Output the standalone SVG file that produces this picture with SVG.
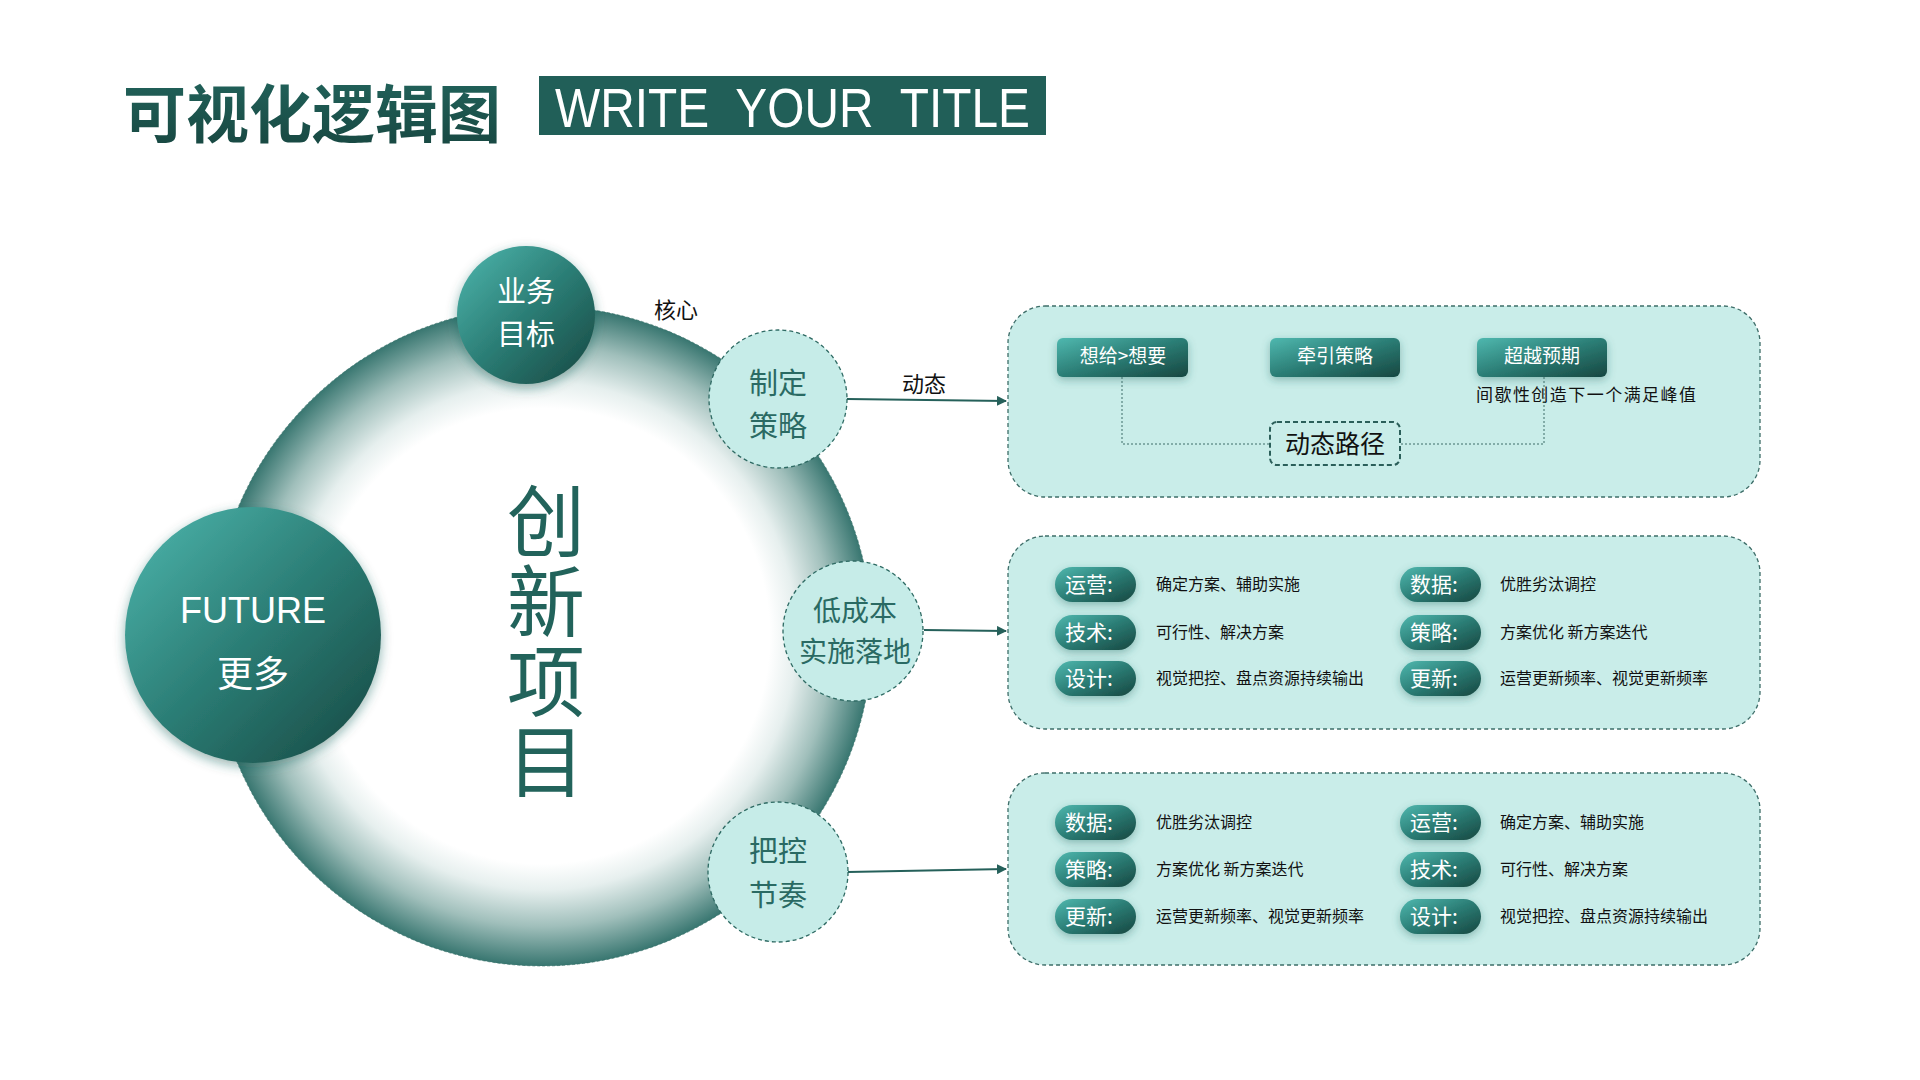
<svg xmlns="http://www.w3.org/2000/svg" width="1920" height="1080" viewBox="0 0 1920 1080">
<defs>
<radialGradient id="ringGrad" cx="0.5" cy="0.5" r="0.5">
<stop offset="0" stop-color="#ffffff"/>
<stop offset="0.69" stop-color="#ffffff"/>
<stop offset="0.77" stop-color="#e6efee"/>
<stop offset="0.88" stop-color="#a0bfbb"/>
<stop offset="1" stop-color="#387670"/>
</radialGradient>
<linearGradient id="tealGrad" x1="0" y1="0" x2="1" y2="1">
<stop offset="0" stop-color="#4fb8af"/>
<stop offset="0.5" stop-color="#2b7d75"/>
<stop offset="1" stop-color="#174640"/>
</linearGradient>
<linearGradient id="titleGrad" x1="0" y1="0" x2="0" y2="1">
<stop offset="0" stop-color="#23675f"/>
<stop offset="1" stop-color="#17453f"/>
</linearGradient>
<filter id="shadow" x="-40%" y="-40%" width="180%" height="180%">
<feDropShadow dx="0" dy="4" stdDeviation="6" flood-color="#1d5a53" flood-opacity="0.45"/>
</filter>
<filter id="softShadow" x="-30%" y="-30%" width="160%" height="160%">
<feDropShadow dx="0" dy="3" stdDeviation="4" flood-color="#2a6a63" flood-opacity="0.4"/>
</filter>
<marker id="arrow" viewBox="0 0 10 10" refX="9" refY="5" markerWidth="5" markerHeight="5" orient="auto" markerUnits="strokeWidth">
<path d="M0,0 L10,5 L0,10 Z" fill="#25605a"/>
</marker>
<style>
.cjk{font-family:"Noto Sans CJK SC","Noto Sans",sans-serif;}
.white{fill:#ffffff;}
.dark{fill:#2a6a63;}
.box{fill:#c9ede9;stroke:#3d6d68;stroke-width:1.3;stroke-dasharray:4 3;}
.light{fill:#c6ece8;stroke:#2e6a63;stroke-width:1.3;stroke-dasharray:4 3;}
.btn{fill:url(#tealGrad);filter:url(#softShadow);}
.pillt{font-family:"Noto Sans CJK SC",sans-serif;font-size:21px;fill:#ffffff;}
.desc{font-family:"Noto Sans CJK SC",sans-serif;font-size:16px;fill:#111111;}
.conn{fill:none;stroke:#25605a;stroke-width:2;}
.dot{fill:none;stroke:#3d6d68;stroke-width:1;stroke-dasharray:2 2;}
</style>
</defs>
<rect width="1920" height="1080" fill="#ffffff"/>

<g id="title">
<text x="123" y="137" class="cjk" font-size="63" font-weight="bold" fill="url(#titleGrad)" textLength="378" lengthAdjust="spacingAndGlyphs">可视化逻辑图</text>
<rect x="539" y="76" width="507" height="59" fill="#215f58"/>
<text x="555" y="127" font-family="Liberation Sans, Arial, sans-serif" font-size="55" fill="#ffffff" word-spacing="16" textLength="475" lengthAdjust="spacingAndGlyphs">WRITE YOUR TITLE</text>
</g>

<g id="ring">
<circle cx="542" cy="636" r="330" fill="url(#ringGrad)" stroke="#2e6a63" stroke-width="1" stroke-dasharray="3 2" stroke-opacity="0.6"/>
<text x="546" y="482" class="cjk" font-size="78" fill="#22635b" letter-spacing="2" style="writing-mode:vertical-rl;text-orientation:upright">创新项目</text>
</g>

<g id="label-core">
<text x="676" y="318" class="cjk" font-size="22" fill="#111111" text-anchor="middle">核心</text>
</g>
<g id="label-dynamic">
<text x="924" y="392" class="cjk" font-size="22" fill="#111111" text-anchor="middle">动态</text>
</g>

<g id="node-goal">
<circle cx="526" cy="315" r="69" fill="url(#tealGrad)" filter="url(#shadow)"/>
<text class="cjk white" font-size="29" text-anchor="middle"><tspan x="526" y="302">业务</tspan><tspan x="526" y="345">目标</tspan></text>
</g>

<g id="node-future">
<circle cx="253" cy="635" r="128" fill="url(#tealGrad)" filter="url(#shadow)"/>
<text x="253" y="623" font-family="Liberation Sans, Arial, sans-serif" font-size="36" fill="#ffffff" text-anchor="middle">FUTURE</text>
<text x="253" y="687" class="cjk white" font-size="36" text-anchor="middle">更多</text>
</g>

<g id="node-strategy">
<circle cx="778" cy="399" r="69" class="light"/>
<text class="cjk dark" font-size="29" text-anchor="middle"><tspan x="778" y="394">制定</tspan><tspan x="778" y="437">策略</tspan></text>
</g>

<g id="node-lowcost">
<circle cx="853" cy="631" r="70" class="light"/>
<text class="cjk dark" font-size="28" text-anchor="middle"><tspan x="855" y="621">低成本</tspan><tspan x="855" y="662">实施落地</tspan></text>
</g>

<g id="node-rhythm">
<circle cx="778" cy="872" r="70" class="light"/>
<text class="cjk dark" font-size="29" text-anchor="middle"><tspan x="778" y="862">把控</tspan><tspan x="778" y="906">节奏</tspan></text>
</g>

<g id="box-1">
<rect x="1008" y="306" width="752" height="191" rx="37" class="box"/>
<rect x="1057" y="338" width="131" height="39" rx="6" class="btn"/>
<text x="1123" y="363" class="cjk white" font-size="19" text-anchor="middle">想给&gt;想要</text>
<rect x="1270" y="338" width="130" height="39" rx="6" class="btn"/>
<text x="1335" y="363" class="cjk white" font-size="19" text-anchor="middle">牵引策略</text>
<rect x="1477" y="338" width="130" height="39" rx="6" class="btn"/>
<text x="1542" y="363" class="cjk white" font-size="19" text-anchor="middle">超越预期</text>
<text x="1476" y="401" class="cjk" font-size="17" fill="#111111" textLength="220" lengthAdjust="spacing">间歇性创造下一个满足峰值</text>
</g>

<g id="box-2">
<rect x="1008" y="536" width="752" height="193" rx="37" class="box"/>
<rect x="1055" y="567" width="81" height="35" rx="17.5" class="btn"/>
<text x="1065" y="592" class="pillt">运营:</text>
<text x="1156" y="590" class="desc">确定方案、辅助实施</text>
<rect x="1055" y="615" width="81" height="35" rx="17.5" class="btn"/>
<text x="1065" y="640" class="pillt">技术:</text>
<text x="1156" y="638" class="desc">可行性、解决方案</text>
<rect x="1055" y="661" width="81" height="35" rx="17.5" class="btn"/>
<text x="1065" y="686" class="pillt">设计:</text>
<text x="1156" y="684" class="desc">视觉把控、盘点资源持续输出</text>
<rect x="1400" y="567" width="81" height="35" rx="17.5" class="btn"/>
<text x="1410" y="592" class="pillt">数据:</text>
<text x="1500" y="590" class="desc">优胜劣汰调控</text>
<rect x="1400" y="615" width="81" height="35" rx="17.5" class="btn"/>
<text x="1410" y="640" class="pillt">策略:</text>
<text x="1500" y="638" class="desc">方案优化 新方案迭代</text>
<rect x="1400" y="661" width="81" height="35" rx="17.5" class="btn"/>
<text x="1410" y="686" class="pillt">更新:</text>
<text x="1500" y="684" class="desc">运营更新频率、视觉更新频率</text>
</g>

<g id="box-3">
<rect x="1008" y="773" width="752" height="192" rx="37" class="box"/>
<rect x="1055" y="805" width="81" height="35" rx="17.5" class="btn"/>
<text x="1065" y="830" class="pillt">数据:</text>
<text x="1156" y="828" class="desc">优胜劣汰调控</text>
<rect x="1055" y="852" width="81" height="35" rx="17.5" class="btn"/>
<text x="1065" y="877" class="pillt">策略:</text>
<text x="1156" y="875" class="desc">方案优化 新方案迭代</text>
<rect x="1055" y="899" width="81" height="35" rx="17.5" class="btn"/>
<text x="1065" y="924" class="pillt">更新:</text>
<text x="1156" y="922" class="desc">运营更新频率、视觉更新频率</text>
<rect x="1400" y="805" width="81" height="35" rx="17.5" class="btn"/>
<text x="1410" y="830" class="pillt">运营:</text>
<text x="1500" y="828" class="desc">确定方案、辅助实施</text>
<rect x="1400" y="852" width="81" height="35" rx="17.5" class="btn"/>
<text x="1410" y="877" class="pillt">技术:</text>
<text x="1500" y="875" class="desc">可行性、解决方案</text>
<rect x="1400" y="899" width="81" height="35" rx="17.5" class="btn"/>
<text x="1410" y="924" class="pillt">设计:</text>
<text x="1500" y="922" class="desc">视觉把控、盘点资源持续输出</text>
</g>

<g id="connectors">
<path class="conn" d="M847 399 L1006 401" marker-end="url(#arrow)"/>
<path class="conn" d="M924 630 L1006 631" marker-end="url(#arrow)"/>
<path class="conn" d="M848 872 L1006 869" marker-end="url(#arrow)"/>
<path class="dot" d="M1122 377 L1122 444 L1270 444"/>
<path class="dot" d="M1544 377 L1544 444 L1400 444"/>
</g>

<g id="node-path">
<rect x="1270" y="422" width="130" height="43" rx="7" fill="#c9ede9" stroke="#2b5f5a" stroke-width="2" stroke-dasharray="5 3"/>
<text x="1335" y="453" class="cjk" font-size="25" fill="#111111" text-anchor="middle">动态路径</text>
</g>
</svg>
